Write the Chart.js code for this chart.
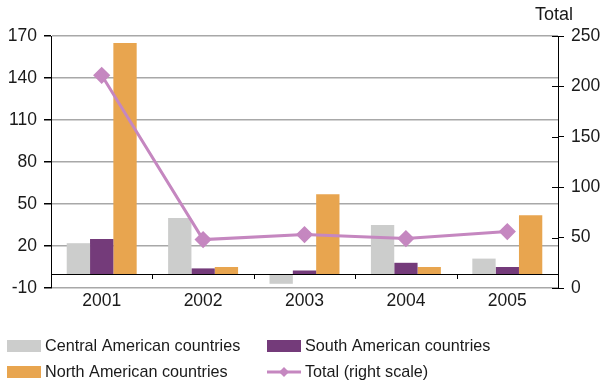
<!DOCTYPE html>
<html lang="en">
<head>
  <meta charset="UTF-8" />
  <title>Regional totals 2001-2005</title>
  <script src="https://cdn.jsdelivr.net/npm/chart.js"></script>
  <style>
    html, body { margin: 0; padding: 0; background: #fff; }
    #wrap { width: 605px; height: 381px; }
  </style>
</head>
<body>
  <div id="wrap"><canvas id="graph"></canvas></div>

  <script>
    // data
    const years = ['2001', '2002', '2003', '2004', '2005'];
    const centralAm = [22, 40, -7, 35, 11];
    const southAm = [25, 4, 2.5, 8, 5];
    const northAm = [165, 5, 57, 5, 42];
    const totalRight = [211, 48, 53, 49, 56];

    const leftMin = -10, leftMax = 170, leftStep = 30;
    const rightMin = 0, rightMax = 250, rightStep = 50;

    const FONT = '"Liberation Sans", Arial, sans-serif';

    // zero line, category ticks, right axis inner ticks, "Total" title, legend
    const extras = {
      id: 'extras',
      afterDatasetsDraw(chart) {
        const { ctx, chartArea, scales } = chart;
        const y0 = scales.y.getPixelForValue(0);
        ctx.save();
        ctx.strokeStyle = '#000';
        ctx.lineWidth = 1;
        ctx.beginPath();
        ctx.moveTo(chartArea.left, Math.round(y0) + 0.5);
        ctx.lineTo(chartArea.right, Math.round(y0) + 0.5);
        // category boundary ticks hanging from the zero line
        const w = (chartArea.right - chartArea.left) / years.length;
        for (let i = 1; i < years.length; i++) {
          const x = Math.round(chartArea.left + i * w) + 0.5;
          ctx.moveTo(x, y0);
          ctx.lineTo(x, y0 + 5);
        }
        // right axis ticks poking into the plot
        for (let v = rightMin; v <= rightMax; v += rightStep) {
          const y = Math.round(scales.y1.getPixelForValue(v)) + 0.5;
          ctx.moveTo(chartArea.right - 6, y);
          ctx.lineTo(chartArea.right, y);
        }
        ctx.stroke();
        ctx.restore();
      },
      afterDraw(chart) {
        const { ctx } = chart;
        ctx.save();
        ctx.fillStyle = '#1a1a1a';
        ctx.font = '18px ' + FONT;
        ctx.textBaseline = 'middle';
        ctx.textAlign = 'left';
        ctx.fillText('Total', 535, 15);

        // legend, 2 columns
        const slots = [[7, 346], [267, 346], [7, 372], [267, 372]];
        ctx.font = '16.2px ' + FONT;
        chart.data.datasets.forEach((ds, k) => {
          const [x, y] = slots[k];
          if (ds.type === 'line') {
            ctx.strokeStyle = ds.borderColor;
            ctx.lineWidth = 3;
            ctx.beginPath();
            ctx.moveTo(x, y);
            ctx.lineTo(x + 34, y);
            ctx.stroke();
            ctx.fillStyle = ds.pointBackgroundColor;
            ctx.beginPath();
            const cx = x + 17, r = 5;
            ctx.moveTo(cx, y - r);
            ctx.lineTo(cx + r, y);
            ctx.lineTo(cx, y + r);
            ctx.lineTo(cx - r, y);
            ctx.closePath();
            ctx.fill();
          } else {
            ctx.fillStyle = ds.backgroundColor;
            ctx.fillRect(x, y - 6, 34, 12);
          }
          ctx.fillStyle = '#1a1a1a';
          ctx.fillText(ds.label, x + 38, y + 1);
        });
        ctx.restore();
      }
    };

    const ctx = document.getElementById('graph').getContext('2d');

    const chart = new Chart(ctx, {
      data: {
        labels: years,
        datasets: [
          {
            type: 'bar',
            label: 'Central American countries',
            data: centralAm,
            backgroundColor: '#cccdcc',
            yAxisID: 'y',
            order: 2
          },
          {
            type: 'bar',
            label: 'South American countries',
            data: southAm,
            backgroundColor: '#743b7a',
            yAxisID: 'y',
            order: 2
          },
          {
            type: 'bar',
            label: 'North American countries',
            data: northAm,
            backgroundColor: '#e8a54f',
            yAxisID: 'y',
            order: 2
          },
          {
            type: 'line',
            label: 'Total (right scale)',
            data: totalRight,
            borderColor: '#c587c0',
            backgroundColor: '#c587c0',
            pointBackgroundColor: '#c587c0',
            pointBorderColor: '#c587c0',
            pointStyle: 'rectRot',
            pointRadius: 6.5,
            borderWidth: 3,
            tension: 0,
            yAxisID: 'y1',
            order: 0
          }
        ]
      },
      options: {
        responsive: true,
        maintainAspectRatio: false,
        animation: false,
        layout: { padding: { top: 36, bottom: 0, left: 0, right: 0 } },
        datasets: {
          bar: { categoryPercentage: 0.69, barPercentage: 1 }
        },
        plugins: {
          legend: { display: false },
          tooltip: { enabled: false }
        },
        scales: {
          x: {
            grid: { display: false, drawTicks: false },
            border: { display: false },
            ticks: { color: '#1a1a1a', font: { family: FONT, size: 17.5 }, padding: 3, maxRotation: 0 },
            afterFit(s) { s.height = 93; }
          },
          y: {
            position: 'left',
            min: leftMin,
            max: leftMax,
            ticks: { stepSize: leftStep, color: '#1a1a1a', font: { family: FONT, size: 17.5 }, padding: 7 },
            grid: { color: '#a8a8a8', lineWidth: 1.5, tickLength: 7, tickColor: '#000' },
            border: { color: '#000', width: 1 },
            afterFit(s) { s.width = 51; }
          },
          y1: {
            position: 'right',
            min: rightMin,
            max: rightMax,
            ticks: { stepSize: rightStep, color: '#1a1a1a', font: { family: FONT, size: 17.5 }, padding: 7 },
            grid: { drawOnChartArea: false, tickLength: 6, tickColor: '#000' },
            border: { color: '#000', width: 1 },
            afterFit(s) { s.width = 47; }
          }
        }
      },
      plugins: [extras]
    });
  </script>
</body>
</html>
